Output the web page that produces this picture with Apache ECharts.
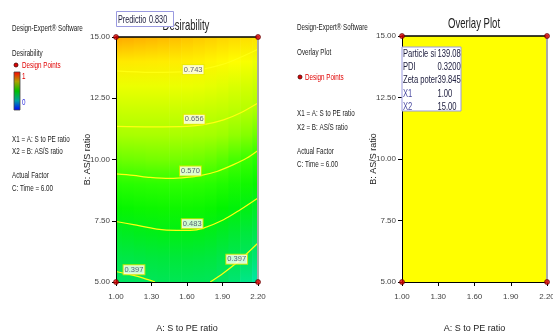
<!DOCTYPE html>
<html>
<head>
<meta charset="utf-8">
<script src="https://cdn.jsdelivr.net/npm/echarts@6/dist/echarts.min.js"></script>
<style>
html, body { margin: 0; padding: 0; background: #fff; }
#chart { width: 553px; height: 335px; }
</style>
</head>
<body>
<div id="chart"></div>
<script>
// A: S to PE ratio, columns of the desirability grid
const aRatio = [1.0, 1.1, 1.2, 1.3, 1.4, 1.5, 1.6, 1.7, 1.8, 1.9, 2.0, 2.1, 2.2];
// B: AS/S ratio, rows of the desirability grid
const bRatio = [5, 6, 7, 8, 9, 10, 11, 12, 13, 14, 15];
// Desirability at C: Time = 6.00 — one list of B rows per A column
const desirability = [
  [0.379, 0.421, 0.463, 0.507, 0.552, 0.596, 0.640, 0.681, 0.720, 0.768, 0.830],
  [0.384, 0.425, 0.467, 0.510, 0.554, 0.598, 0.641, 0.682, 0.720, 0.768, 0.826],
  [0.389, 0.430, 0.472, 0.514, 0.557, 0.599, 0.642, 0.682, 0.721, 0.767, 0.822],
  [0.396, 0.436, 0.475, 0.517, 0.559, 0.601, 0.642, 0.682, 0.721, 0.766, 0.818],
  [0.400, 0.439, 0.478, 0.519, 0.560, 0.602, 0.643, 0.682, 0.721, 0.765, 0.814],
  [0.403, 0.441, 0.479, 0.519, 0.560, 0.601, 0.642, 0.682, 0.721, 0.763, 0.810],
  [0.403, 0.441, 0.479, 0.519, 0.559, 0.600, 0.641, 0.681, 0.720, 0.761, 0.805],
  [0.400, 0.438, 0.476, 0.517, 0.557, 0.598, 0.639, 0.679, 0.718, 0.758, 0.800],
  [0.397, 0.434, 0.471, 0.511, 0.552, 0.593, 0.635, 0.675, 0.714, 0.753, 0.795],
  [0.382, 0.422, 0.462, 0.502, 0.544, 0.586, 0.629, 0.671, 0.709, 0.748, 0.790],
  [0.368, 0.409, 0.450, 0.491, 0.533, 0.575, 0.620, 0.664, 0.702, 0.741, 0.786],
  [0.349, 0.392, 0.436, 0.479, 0.523, 0.567, 0.612, 0.656, 0.695, 0.733, 0.782],
  [0.323, 0.369, 0.416, 0.463, 0.509, 0.553, 0.598, 0.642, 0.683, 0.723, 0.778]
];

// Desirability contour lines, [A, B] points
const contour397a = [[1.0, 5.43], [1.147, 5.27], [1.231, 5.16], [1.33, 5.0]];
const contour397b = [[1.796, 5.0], [1.909, 5.37], [2.05, 5.91], [2.2, 6.59]];
const contour483 = [[1.0, 7.47], [1.147, 7.34], [1.345, 7.16], [1.514, 7.11], [1.627, 7.11], [1.739, 7.20], [1.909, 7.54], [2.05, 7.95], [2.2, 8.43]];
const contour570 = [[1.0, 9.41], [1.147, 9.35], [1.288, 9.27], [1.457, 9.23], [1.599, 9.27], [1.711, 9.34], [1.852, 9.51], [1.993, 9.79], [2.106, 10.06], [2.2, 10.37]];
const contour656 = [[1.0, 11.35], [1.3, 11.33], [1.6, 11.35], [1.739, 11.42], [1.909, 11.62], [2.05, 11.90], [2.2, 12.31]];
const contour743 = [[1.0, 13.62], [1.3, 13.56], [1.6, 13.60], [1.9, 13.88], [2.2, 14.50]];

// Contour value tags: A, B, level
const tagA = [1.652, 1.661, 1.629, 1.644, 1.152, 2.020];
const tagB = [13.67, 11.64, 9.53, 7.38, 5.50, 5.93];
const tagLevel = ['0.743', '0.656', '0.570', '0.483', '0.397', '0.397'];

// Factorial design points
const designPoints = [[1.0, 15.0], [2.2, 15.0], [1.0, 5.0], [2.2, 5.0]];

// Overlay plot: feasible (sweet spot) region corners
const feasibleRegion = [[1.0, 5.0], [2.2, 5.0], [2.2, 15.0], [1.0, 15.0]];

// Flag readouts at X1 = 1.00, X2 = 15.00
const overlayNames = ['Particle si', 'PDI', 'Zeta poter', 'X1', 'X2'];
const overlayValues = ['139.082', '0.32000', '39.8457', '1.00', '15.00'];

// Axis ticks
const aTicks = { min: 1.0, max: 2.2, interval: 0.3 };
const bTicks = { min: 5, max: 15, interval: 2.5 };

const FONT = '"Liberation Sans Narrow", "Liberation Sans", Arial, sans-serif';
const SQUEEZE = 0.66; // condensed look of the annotation text

// Colour ramp used for the desirability surface
const rampStops = [
  [0.30, '#00e4b8'], [0.33, '#00e8a0'], [0.38, '#00e464'], [0.44, '#00e83a'],
  [0.50, '#00f400'], [0.56, '#2cff00'], [0.60, '#72ff00'], [0.63, '#a0ff00'],
  [0.66, '#b8ff00'], [0.70, '#d8ff00'], [0.74, '#ffff00'], [0.78, '#ffe000'],
  [0.83, '#ffa800']
];
function hexToRgb(h) {
  return [parseInt(h.slice(1, 3), 16), parseInt(h.slice(3, 5), 16), parseInt(h.slice(5, 7), 16)];
}
function rampColor(v) {
  if (v <= rampStops[0][0]) return rampStops[0][1];
  for (let k = 1; k < rampStops.length; k++) {
    if (v <= rampStops[k][0]) {
      const t = (v - rampStops[k - 1][0]) / (rampStops[k][0] - rampStops[k - 1][0]);
      const c0 = hexToRgb(rampStops[k - 1][1]), c1 = hexToRgb(rampStops[k][1]);
      const c = c0.map((x, i) => Math.round(x + (c1[i] - x) * t));
      return 'rgb(' + c.join(',') + ')';
    }
  }
  return rampStops[rampStops.length - 1][1];
}

const chart = echarts.init(document.getElementById('chart'), null, { renderer: 'canvas' });

function xAxisFor(g) {
  return {
    type: 'value', gridIndex: g, min: aTicks.min, max: aTicks.max, interval: aTicks.interval,
    axisLine: { show: true, onZero: false, lineStyle: { color: '#000', width: 1 } },
    axisTick: { show: true, length: 4, lineStyle: { color: '#000' } },
    axisLabel: { formatter: v => v.toFixed(2), fontSize: 8, color: '#444', margin: 11, fontFamily: FONT },
    splitLine: { show: false },
    name: 'A: S to PE ratio', nameLocation: 'middle', nameGap: 42, nameMoveOverlap: false,
    nameTextStyle: { fontSize: 9, color: '#222', fontFamily: FONT },
    z: 10
  };
}
function yAxisFor(g) {
  return {
    type: 'value', gridIndex: g, min: bTicks.min, max: bTicks.max, interval: bTicks.interval,
    axisLine: { show: true, onZero: false, lineStyle: { color: '#000', width: 1 } },
    axisTick: { show: true, length: 4, lineStyle: { color: '#000' } },
    axisLabel: { formatter: v => v.toFixed(2), fontSize: 8, color: '#444', margin: 6, fontFamily: FONT },
    splitLine: { show: false },
    name: 'B: AS/S ratio', nameLocation: 'middle', nameGap: 24, nameMoveOverlap: false,
    nameTextStyle: { fontSize: 9, color: '#222', fontFamily: FONT },
    z: 10
  };
}
function rightEdgeFor(g) {
  return {
    type: 'value', gridIndex: g, position: 'right', min: bTicks.min, max: bTicks.max,
    axisLine: { show: true, onZero: false, lineStyle: { color: '#a8a8a8', width: 2 } },
    axisTick: { show: false }, axisLabel: { show: false }, splitLine: { show: false }, z: 11
  };
}
function topEdgeFor(g) {
  return {
    type: 'value', gridIndex: g, position: 'top', min: aTicks.min, max: aTicks.max,
    axisLine: { show: true, onZero: false, lineStyle: { color: '#000', width: 1.5 } },
    axisTick: { show: false }, axisLabel: { show: false }, splitLine: { show: false }, z: 10
  };
}

// condensed annotation text
function txt(x, y, text, fill, size, align, z) {
  return {
    type: 'text', x: x, y: y, z: z || 20, scaleX: SQUEEZE,
    style: { text: text, fill: fill || '#222', fontSize: size || 9.5, fontFamily: FONT, verticalAlign: 'middle', align: align || 'left' }
  };
}
function dot(x, y) {
  return { type: 'circle', shape: { cx: x, cy: y, r: 2 }, z: 20, style: { fill: '#e00000', stroke: '#400', lineWidth: 0.8 } };
}

const graphics = [
  // left panel notes
  txt(12, 28, 'Design-Expert® Software'),
  txt(12, 53, 'Desirability'),
  dot(16, 65), txt(22, 65, 'Design Points', '#e00000'),
  {
    type: 'rect', shape: { x: 14, y: 72, width: 6, height: 38 }, z: 20,
    style: {
      stroke: '#444', lineWidth: 0.8,
      fill: new echarts.graphic.LinearGradient(0, 0, 0, 1, [
        { offset: 0, color: '#ff0000' }, { offset: 0.25, color: '#b0a000' },
        { offset: 0.5, color: '#00c000' }, { offset: 0.75, color: '#00a0a0' },
        { offset: 1, color: '#0000ff' }
      ])
    }
  },
  txt(22, 76, '1', '#e00000'), txt(22, 102, '0', '#3030e0'),
  txt(12, 139, 'X1 = A: S to PE ratio'),
  txt(12, 151, 'X2 = B: AS/S ratio'),
  txt(12, 175, 'Actual Factor'),
  txt(12, 188, 'C: Time = 6.00'),

  // right panel notes
  txt(297, 27, 'Design-Expert® Software'),
  txt(297, 52, 'Overlay Plot'),
  dot(300, 77), txt(305, 77, 'Design Points', '#e00000'),
  txt(297, 113, 'X1 = A: S to PE ratio'),
  txt(297, 127, 'X2 = B: AS/S ratio'),
  txt(297, 151, 'Actual Factor'),
  txt(297, 164, 'C: Time = 6.00'),

  // plot titles
  txt(186, 26, 'Desirability', '#222', 14.5, 'center'),
  txt(474, 24, 'Overlay Plot', '#222', 14.5, 'center'),

  // prediction flag on the desirability plot
  { type: 'rect', shape: { x: 116.5, y: 11.5, width: 57, height: 15 }, z: 21, style: { fill: '#fff', stroke: '#9a9ae0', lineWidth: 1 } },
  txt(118, 19.5, 'Predictio', '#202040', 11, 'left', 22),
  txt(149, 19.5, desirability[0][bRatio.length - 1].toFixed(3), '#202040', 11, 'left', 22),

  // flag box on the overlay plot
  { type: 'rect', shape: { x: 402, y: 47, width: 59, height: 64 }, z: 21, style: { fill: '#fff', stroke: '#9a9ae0', lineWidth: 1 } }
];
overlayNames.forEach((n, i) => {
  const y = 53.5 + i * 13.3;
  const col = i < 3 ? '#202040' : '#4a4aa0';
  graphics.push(txt(403, y, n, col, 11.5, 'left', 22));
  const v = txt(437.5, y, overlayValues[i], '#202040', 11.5, 'left', 22);
  v.style.width = 38;
  v.style.overflow = 'truncate';
  v.style.ellipsis = '';
  graphics.push(v);
});

const contourLine = (path) => ({
  type: 'line', xAxisIndex: 0, yAxisIndex: 0, data: path, showSymbol: false, smooth: 0.3, silent: true, z: 3,
  lineStyle: { color: '#ffff10', width: 1.2 }
});

const option = {
  animation: false,
  textStyle: { fontFamily: FONT },
  grid: [
    { left: 116, top: 37, width: 142, height: 245, show: false, outerBoundsMode: 'none' },
    { left: 402, top: 36, width: 145, height: 246, show: false, outerBoundsMode: 'none' }
  ],
  xAxis: [xAxisFor(0), xAxisFor(1), topEdgeFor(0), topEdgeFor(1)],
  yAxis: [yAxisFor(0), yAxisFor(1), rightEdgeFor(0), rightEdgeFor(1)],
  graphic: graphics,
  series: [
    {
      // desirability surface, one vertical gradient strip per A column
      type: 'custom', xAxisIndex: 0, yAxisIndex: 0, silent: true, z: 1,
      data: aRatio.map((a, i) => [a, i]),
      renderItem: function (params, api) {
        const a = api.value(0), i = api.value(1);
        const aMin = aRatio[0], aMax = aRatio[aRatio.length - 1];
        const bMin = bRatio[0], bMax = bRatio[bRatio.length - 1];
        const lo = Math.max(aMin, a - 0.05), hi = Math.min(aMax, a + 0.05);
        const p0 = api.coord([lo, bMax]);
        const p1 = api.coord([hi, bMin]);
        const stops = bRatio.map((b, j) => ({
          offset: (bMax - b) / (bMax - bMin),
          color: rampColor(desirability[i][j])
        })).reverse();
        const extra = hi < aMax ? 0.6 : 0;
        return {
          type: 'rect',
          shape: { x: p0[0], y: p0[1], width: p1[0] - p0[0] + extra, height: p1[1] - p0[1] },
          style: { fill: new echarts.graphic.LinearGradient(0, 0, 0, 1, stops) }
        };
      }
    },
    contourLine(contour743),
    contourLine(contour656),
    contourLine(contour570),
    contourLine(contour483),
    contourLine(contour397a),
    contourLine(contour397b),
    {
      type: 'scatter', xAxisIndex: 0, yAxisIndex: 0, silent: true, z: 4,
      data: tagA.map((a, i) => [a, tagB[i], tagLevel[i]]),
      symbolSize: 0,
      label: {
        show: true, position: 'inside', formatter: p => p.value[2],
        fontSize: 7.5, color: '#3a3a5a', fontFamily: FONT,
        backgroundColor: '#fff', borderColor: '#e8e800', borderWidth: 1, padding: [1, 1, 0, 1]
      }
    },
    {
      // overlay feasible region
      type: 'custom', xAxisIndex: 1, yAxisIndex: 1, silent: true, z: 1,
      data: [0],
      renderItem: function (params, api) {
        return {
          type: 'polygon',
          shape: { points: feasibleRegion.map(p => api.coord(p)) },
          style: { fill: '#ffff00' }
        };
      }
    },
    {
      type: 'scatter', xAxisIndex: 0, yAxisIndex: 0, data: designPoints, symbolSize: 5, z: 12, silent: true,
      itemStyle: { color: '#e00000', borderColor: '#500', borderWidth: 0.8 }
    },
    {
      type: 'scatter', xAxisIndex: 1, yAxisIndex: 1, data: designPoints, symbolSize: 5, z: 12, silent: true,
      itemStyle: { color: '#e00000', borderColor: '#500', borderWidth: 0.8 }
    }
  ]
};
chart.setOption(option);
</script>
</body>
</html>
